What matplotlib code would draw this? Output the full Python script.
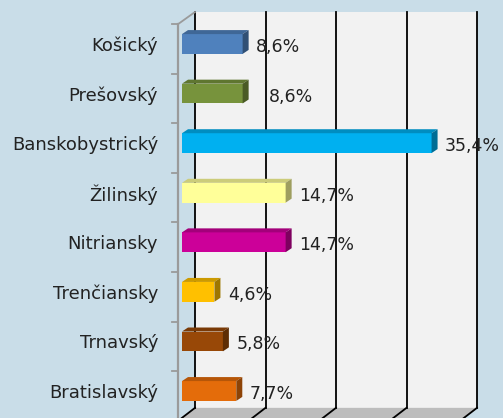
import numpy as np
import matplotlib.pyplot as plt
from matplotlib.patches import Polygon
from matplotlib.colors import to_rgb

regions = ["Košický", "Prešovský", "Banskobystrický", "Žilinský",
           "Nitriansky", "Trenčiansky", "Trnavský", "Bratislavský"]
shares = [8.6, 8.6, 35.4, 14.7, 14.7, 4.6, 5.8, 7.7]
colors = ["#4F81BD", "#77933C", "#00B0F0", "#FFFF99",
          "#CC0099", "#FFC000", "#984807", "#E46C0A"]
xticks = [0, 10, 20, 30, 40]

bg = "#C9DDE8"
wall = "#F2F2F2"

# pixel -> data helpers (axes spans the whole figure)
W, H = 503, 418
pxs = 7.05    # px per percent
pys = 49.57   # px per category
x0, y0 = 182, 44

fig = plt.figure(figsize=(W / 100, H / 100), dpi=100)
fig.patch.set_facecolor(bg)
ax = fig.add_axes([0, 0, 1, 1])
ax.set_xlim(-x0 / pxs, (W - x0) / pxs)
ax.set_ylim((H - y0) / pys, -y0 / pys)
ax.axis("off")

# depth of walls and of bars, in data units
wdx, wdy = 13 / pxs, -10 / pys
bdx, bdy = 6 / pxs, -4 / pys
top = -32 / pys
floor_y = 7.34

# back wall
ax.add_patch(Polygon([(wdx, top), (40 + wdx, top), (40 + wdx, floor_y), (wdx, floor_y)],
                     closed=True, fc=wall, ec="none", zorder=1))
# floor
fy2 = floor_y - wdy * 2
ax.add_patch(Polygon([(wdx, floor_y), (40 + wdx, floor_y), (40 + wdx - 2 * wdx, fy2), (-wdx, fy2)],
                     closed=True, fc="#BDBDBD", ec="none", zorder=1))
for t in xticks:
    ax.plot([t + wdx, t + wdx], [top, floor_y], color="black", lw=1.3, zorder=2)
    ax.plot([t + wdx, t - wdx], [floor_y, fy2], color="black", lw=1.3, zorder=2)

# left axis
lx = -4 / pxs
ax.plot([lx, lx], [-0.4, 8], color="#9A9A9A", lw=1.6, zorder=2)
ax.plot([lx, wdx], [-0.4, top], color="#9A9A9A", lw=1.3, zorder=2)
for i in range(9):
    ax.plot([lx - 6 / pxs, lx], [i - 0.4, i - 0.4], color="#9A9A9A", lw=1.3, zorder=2)


def shade(c, f):
    return tuple(np.array(to_rgb(c)) * f)


h = 0.4
nudge = {1: 13}
for i, (name, v, c) in enumerate(zip(regions, shares, colors)):
    yt, yb = i - h / 2, i + h / 2
    ax.barh(i, v, height=h, color=c, zorder=3)
    ax.add_patch(Polygon([(0, yt), (v, yt), (v + bdx, yt + bdy), (bdx, yt + bdy)],
                         closed=True, fc=shade(c, 0.8), ec="none", zorder=3))
    ax.add_patch(Polygon([(v, yt), (v + bdx, yt + bdy), (v + bdx, yb + bdy), (v, yb)],
                         closed=True, fc=shade(c, 0.62), ec="none", zorder=3))
    ax.text(v + (13.5 + nudge.get(i, 0)) / pxs, i + 3 / pys, f"{v:.1f}%".replace(".", ","),
            ha="left", va="center", fontsize=12.5, color="#222222", zorder=4)
    ax.text(-24 / pxs, i + 2 / pys, name, ha="right", va="center",
            fontsize=13, color="#222222", zorder=4)

fig.savefig("out.png", dpi=100, facecolor=bg)
